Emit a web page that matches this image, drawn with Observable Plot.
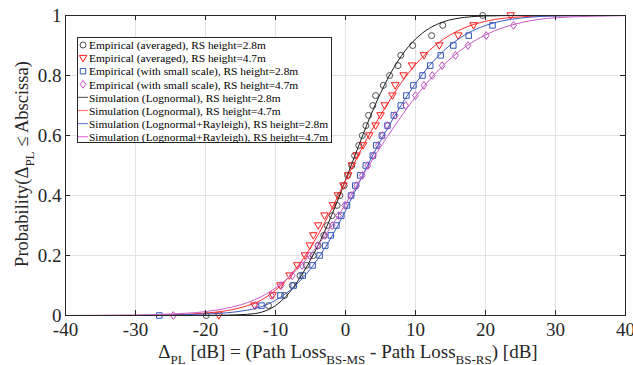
<!DOCTYPE html>
<html><head><meta charset="utf-8">
<script src="https://cdn.jsdelivr.net/npm/d3@7"></script>
<script src="https://cdn.jsdelivr.net/npm/@observablehq/plot@0.6"></script>
<style>
body{margin:0;background:#fff;}
#wrap{position:relative;width:633px;height:365px;overflow:hidden;font-family:"Liberation Serif","Times New Roman",serif;color:#262626;}
#wrap > svg{position:absolute;left:0;top:0;}
.lab{position:absolute;white-space:nowrap;font-size:19px;line-height:1;}
.lab sub{font-size:13px;vertical-align:-6px;line-height:0;}
</style></head><body><div id="wrap"></div>
<script>
const xTicks = [-40,-30,-20,-10,0,10,20,30,40];
const yTicks = [0,0.2,0.4,0.6,0.8,1];
const levels = [0,0.033,0.067,0.1,0.133,0.167,0.2,0.233,0.267,0.3,0.333,0.367,0.4,0.433,0.467,0.5,0.533,0.567,0.6,0.633,0.667,0.7,0.733,0.767,0.8,0.833,0.867,0.9,0.933,0.967,1];

const empAvg28 = [-19.9,-11.0,-8.7,-7.6,-6.5,-5.6,-4.6,-3.9,-3.1,-2.6,-1.9,-1.2,-0.8,-0.2,0.3,0.9,1.3,1.9,2.4,2.9,3.3,3.9,4.3,5.4,6.3,7.5,7.9,9.6,12.3,13.9,19.6];
const empAvg47 = [-18.1,-13.0,-10.4,-9.3,-8.0,-6.9,-5.8,-5.1,-4.6,-3.9,-3.0,-1.8,-1.1,-0.3,0.4,0.9,1.6,2.5,3.4,4.3,5.0,5.6,6.7,7.1,8.3,9.5,11.2,13.4,16.1,18.3,23.6];
const empSS28 = [-26.6,-12.0,-9.3,-7.4,-6.1,-4.7,-3.7,-2.9,-2.1,-1.3,-0.6,0.2,0.8,1.4,2.1,2.9,3.9,4.4,5.2,6.0,6.9,7.9,8.7,9.7,11.0,12.1,13.6,15.4,17.6,21.0];
const empSS47 = [-24.6,-12.9,-10.6,-9.2,-7.6,-6.2,-5.1,-4.0,-2.9,-1.9,-1.0,-0.1,0.8,1.6,2.4,3.2,4.0,4.7,5.3,6.0,7.1,8.6,10.0,11.2,12.4,13.8,15.7,17.5,20.1,24.0];

const lineX = [-40,-30,-25,-20,-17,-14,-12,-10,-8,-6,-4,-2,0,2,4,6,8,10,12,14,17,20,25,30,40];
const simLogn28 = [0,0,0.0001,0.0003,0.0012,0.004,0.011,0.033,0.077,0.145,0.230,0.333,0.451,0.573,0.689,0.788,0.866,0.9215,0.9576,0.979,0.9937,0.9984,0.9999,1,1];
const simLogn47 = [0,0.0005,0.002,0.008,0.016,0.033,0.052,0.0846,0.130,0.191,0.266,0.354,0.450,0.543,0.628,0.706,0.777,0.836,0.884,0.921,0.959,0.9805,0.9955,0.9992,1];
const simLR28 = [0,0.0003,0.0015,0.005,0.009,0.018,0.0295,0.0508,0.0826,0.1277,0.1874,0.2619,0.3492,0.4453,0.539,0.624,0.703,0.773,0.833,0.882,0.9346,0.9669,0.9913,0.9983,1];
const simLR47 = [0.0001,0.0015,0.005,0.013,0.024,0.043,0.063,0.0918,0.1292,0.1762,0.2327,0.298,0.3707,0.4483,0.525,0.597,0.665,0.729,0.7855,0.8347,0.8935,0.9355,0.9757,0.9924,0.9996];

const names = [
  "Empirical (averaged), RS height=2.8m",
  "Empirical (averaged), RS height=4.7m",
  "Empirical (with small scale), RS height=2.8m",
  "Empirical (with small scale), RS height=4.7m",
  "Simulation (Lognormal), RS height=2.8m",
  "Simulation (Lognormal), RS height=4.7m",
  "Simulation (Lognormal+Rayleigh), RS height=2.8m",
  "Simulation (Lognormal+Rayleigh), RS height=4.7m"
];

const markerColors = ["#4d4d4d","#ff1a1a","#3355bb","#c04fc0"];
const lineColors = ["#1a1a1a","#ff2a2a","#3b5bbf","#c95cc5"];
const legendLineColors = ["#6a6a6a","#ff7a7a","#7088cc","#e07ad8"];

const mk = fn => ({draw(ctx, size){ const r = Math.sqrt(size/Math.PI); fn(ctx, r); }});
const symCircle = mk((c,r)=>{ c.moveTo(r,0); c.arc(0,0,r,0,2*Math.PI); });
const symTri = mk((c,r)=>{ c.moveTo(-1.25*r,-0.9*r); c.lineTo(1.25*r,-0.9*r); c.lineTo(0,1.25*r); c.closePath(); });
const symSq = mk((c,r)=>{ const h=0.92*r; c.moveTo(-h,-h); c.lineTo(h,-h); c.lineTo(h,h); c.lineTo(-h,h); c.closePath(); });
const symDia = mk((c,r)=>{ c.moveTo(0,-1.3*r); c.lineTo(0.95*r,0); c.lineTo(0,1.3*r); c.lineTo(-0.95*r,0); c.closePath(); });
const symbols = [symCircle, symTri, symSq, symDia];

const emp = [empAvg28, empAvg47, empSS28, empSS47].map(a => a.map((x,i)=>({x, y: levels[i]})));
const sims = [simLogn28, simLogn47, simLR28, simLR47].map(a => a.map((y,i)=>({x: lineX[i], y})));

const font = '"Liberation Serif","Times New Roman",serif';
const plot = Plot.plot({
  width: 633, height: 365,
  marginLeft: 65, marginRight: 8, marginTop: 15, marginBottom: 50,
  x: {domain: [-40, 40]},
  y: {domain: [0, 1]},
  style: {fontFamily: font, background: "transparent", color: "#262626"},
  marks: [
    Plot.gridX(xTicks, {stroke: "#e3e3e3", strokeOpacity: 1}),
    Plot.gridY(yTicks, {stroke: "#e3e3e3", strokeOpacity: 1}),
    ...emp.map((d,i) => Plot.dot(d, {x: "x", y: "y", symbol: symbols[i], r: 3, stroke: markerColors[i], fill: "none", strokeWidth: 1})),
    ...sims.map((d,i) => Plot.line(d, {x: "x", y: "y", stroke: lineColors[i], strokeWidth: 1, curve: "monotone-x"})),
    Plot.ruleX(xTicks, {x: d => d, insetTop: 295, stroke: "#262626"}),
    Plot.ruleX(xTicks, {x: d => d, insetBottom: 295, stroke: "#262626"}),
    Plot.ruleY(yTicks, {y: d => d, insetRight: 555, stroke: "#262626"}),
    Plot.ruleY(yTicks, {y: d => d, insetLeft: 555, stroke: "#262626"}),
    Plot.frame({stroke: "#262626"}),
    Plot.axisX({ticks: xTicks, tickSize: 0, tickPadding: 7, fontSize: 19, tickFormat: d => String(d), label: null}),
    Plot.axisY({ticks: yTicks, tickSize: 0, tickPadding: 4, fontSize: 19, tickFormat: d => String(d), label: null})
  ]
});
const wrap = document.getElementById("wrap");
wrap.appendChild(plot);

// axis labels
const xl = document.createElement("div");
xl.className = "lab";
xl.innerHTML = "&Delta;<sub>PL</sub> [dB] = (Path Loss<sub>BS-MS</sub> - Path Loss<sub>BS-RS</sub>) [dB]";
xl.style.left = "348px"; xl.style.top = "342px"; xl.style.transform = "translateX(-50%)";
wrap.appendChild(xl);

const yl = document.createElement("div");
yl.className = "lab";
yl.style.fontSize = "18.5px";
yl.innerHTML = "Probability(&Delta;<sub>PL</sub> &le; Abscissa)";
yl.style.left = "22px"; yl.style.top = "164px"; yl.style.transform = "translate(-50%,-50%) rotate(-90deg)";
wrap.appendChild(yl);

// legend
const L = {x: 77, y: 37, w: 254, h: 105, row: 13.1, first: 8};
const lg = d3.create("svg").attr("width", L.w + 1).attr("height", L.h + 1)
  .style("left", L.x + "px").style("top", L.y + "px");
lg.append("rect").attr("x", 0.5).attr("y", 0.5).attr("width", L.w).attr("height", L.h)
  .attr("fill", "#fff").attr("stroke", "#262626");
names.forEach((name, i) => {
  const cy = L.first + i * L.row;
  if (i < 4) {
    lg.append("path").attr("transform", `translate(6,${cy})`)
      .attr("d", d3.symbol(symbols[i], 3*3*Math.PI)())
      .attr("fill", "none").attr("stroke", markerColors[i]);
  } else {
    lg.append("line").attr("x1", 1).attr("x2", 11).attr("y1", cy).attr("y2", cy)
      .attr("stroke", legendLineColors[i-4]).attr("stroke-width", 1.2);
  }
  lg.append("text").attr("x", 12).attr("y", cy + 4.2).attr("font-size", 11.4)
    .attr("font-family", font).attr("fill", "#000").text(name);
});
wrap.appendChild(lg.node());
</script></body></html>
